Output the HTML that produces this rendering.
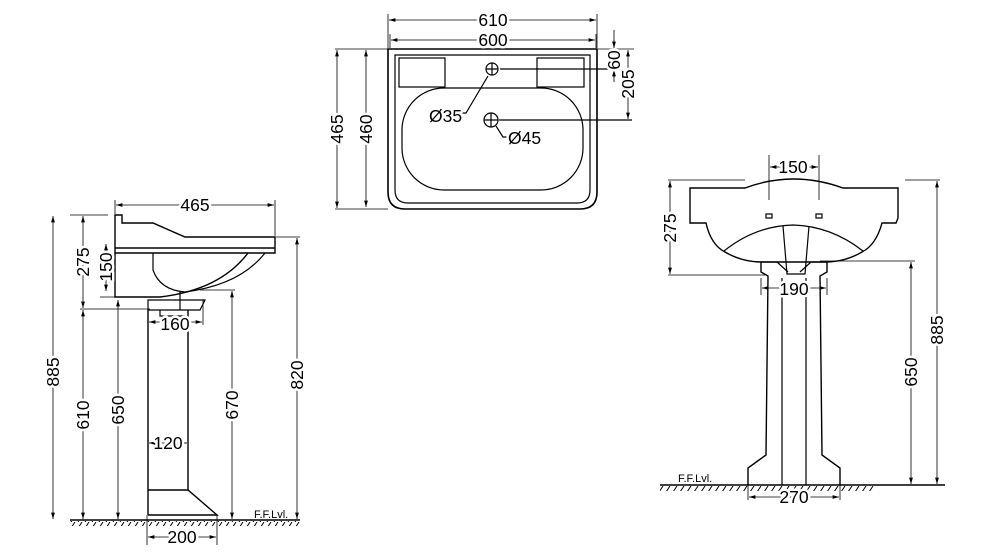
<!DOCTYPE html>
<html><head><meta charset="utf-8"><style>
html,body{margin:0;padding:0;background:#fff}
svg{display:block}
text{font-family:"Liberation Sans",Arial,sans-serif;font-size:17.5px;fill:#000;stroke:#fff;stroke-width:5px;paint-order:stroke;stroke-linejoin:round}
</style></head><body>
<svg width="992" height="557" viewBox="0 0 992 557" xmlns="http://www.w3.org/2000/svg">
<defs>
<marker id="a" viewBox="0 0 10 6" refX="10" refY="3" markerWidth="8" markerHeight="5" orient="auto-start-reverse"><path d="M0,0 L10,3 L0,6 z" fill="#000"/></marker>
<pattern id="h" width="7" height="6" patternUnits="userSpaceOnUse"><path d="M1,6 L5,0" stroke="#000" stroke-width="1"/></pattern>
</defs>
<g fill="none" stroke="#000" stroke-width="1.2">
<!-- TOP VIEW -->
<path d="M388,49 H597 V192 Q597,209 580,209 H405 Q388,209 388,192 Z" stroke-width="1.6"/>
<path d="M395,55 H590 V190 Q590,203 577,203 H408 Q395,203 395,190 Z"/>
<rect x="399" y="58" width="46" height="29"/>
<rect x="537" y="58" width="47" height="29"/>
<rect x="402" y="88" width="181" height="102" rx="42"/>
<circle cx="492" cy="69" r="6"/><path d="M486,69h12M492,63v12"/>
<circle cx="491" cy="120" r="7"/><path d="M484,120h14M491,113v14"/>
<path d="M500,69H620M499,120H632"/>
<path d="M488,76 L466,113 H458"/>
<path d="M496,126 L503,137 H508"/>
<path d="M388,48V14M597,48V14M390,48V34M596,48V34" stroke-width="0.8"/>
<path d="M389,20H596" marker-start="url(#a)" marker-end="url(#a)" stroke-width="0.8"/>
<path d="M391,40H595" marker-start="url(#a)" marker-end="url(#a)" stroke-width="0.8"/>
<path d="M335,49H388M335,209H388" stroke-width="0.8"/>
<path d="M337,50V208" marker-start="url(#a)" marker-end="url(#a)" stroke-width="0.8"/>
<path d="M366,50V207" marker-start="url(#a)" marker-end="url(#a)" stroke-width="0.8"/>
<path d="M598,49H634" stroke-width="0.8"/>
<path d="M614,30V48M614,70V82" stroke-width="0.8"/>
<path d="M614,40V48" marker-end="url(#a)" stroke-width="0.8"/>
<path d="M614,78V70" marker-end="url(#a)" stroke-width="0.8"/>
<path d="M628,50V119" marker-start="url(#a)" marker-end="url(#a)" stroke-width="0.8"/>

<!-- LEFT SIDE VIEW -->
<path d="M115,215 H122 V223 H153 L185,237 H275 V253 H115 Z" stroke-width="1.4"/>
<path d="M115,248 H275 M115,253 V297 H160 Q220,290 248,253" stroke-width="1.4"/>
<path d="M153,253 V270 Q160,290 185,292 M185,292 Q240,285 265,253" />
<path d="M148,300 H205 L200,310 H148 Z M180,292 V310 M160,310 V316 H185"/>
<path d="M148,310 V515 M188,310 V490 M148,490 H188 L217,515 H148" stroke-width="1.4"/>
<path d="M70,215 H108 M100,297 H115 M80,309 H150 M276,237 H300 M200,290 H235" stroke-width="0.8"/>
<path d="M116,205H274" marker-start="url(#a)" marker-end="url(#a)" stroke-width="0.8"/>
<path d="M115,200V214M275,200V236" stroke-width="0.8"/>
<path d="M53,216V519" marker-start="url(#a)" marker-end="url(#a)" stroke-width="0.8"/>
<path d="M83,216V308" marker-start="url(#a)" marker-end="url(#a)" stroke-width="0.8"/>
<path d="M83,310V519" marker-start="url(#a)" marker-end="url(#a)" stroke-width="0.8"/>
<path d="M106,244V291" marker-start="url(#a)" marker-end="url(#a)" stroke-width="0.8"/>
<path d="M118,300V519" marker-start="url(#a)" marker-end="url(#a)" stroke-width="0.8"/>
<path d="M232,291V519" marker-start="url(#a)" marker-end="url(#a)" stroke-width="0.8"/>
<path d="M297,238V519" marker-start="url(#a)" marker-end="url(#a)" stroke-width="0.8"/>
<path d="M149,322H202" marker-start="url(#a)" marker-end="url(#a)" stroke-width="0.8"/>
<path d="M203,300V325" stroke-width="0.8"/>
<path d="M149,443H187" marker-start="url(#a)" marker-end="url(#a)" stroke-width="0.8"/>
<path d="M148,537H216" marker-start="url(#a)" marker-end="url(#a)" stroke-width="0.8"/>
<path d="M147,515V545M217,515V545" stroke-width="0.8"/>
<path d="M70,520H300" stroke-width="1.4"/>
<rect x="70" y="521" width="230" height="5" fill="url(#h)" stroke="none"/>

<!-- FRONT VIEW -->
<path d="M690,188 H745 Q793,170 843,188 H898 V218 L896,223 H882 Q876,245 862,252 Q845,262 825,262 H762 Q742,262 725,252 Q711,245 706,223 H690 Z" stroke-width="1.4"/>
<path d="M724,251 Q755,226 793,225 Q831,226 863,251"/>
<path d="M783,226 L787,274 H805 L809,226"/>
<rect x="766" y="214" width="6" height="4"/><rect x="816" y="214" width="6" height="4"/>
<path d="M761,262 H777 L788,272 M827,262 H811 L800,272"/>
<path d="M761,262 V272 L768,276 L766,455 L748,468 V485 M827,262 V272 L820,276 L822,455 L840,468 V485" stroke-width="1.4"/>
<path d="M782,278 V485 M806,278 V485"/>
<path d="M769,155V200M819,155V200M761,278V295M827,278V295" stroke-width="0.8"/>
<path d="M770,167H818" marker-start="url(#a)" marker-end="url(#a)" stroke-width="0.8"/>
<path d="M668,180H745M668,275H765M820,261H915M905,180H940" stroke-width="0.8"/>
<path d="M670,181V274" marker-start="url(#a)" marker-end="url(#a)" stroke-width="0.8"/>
<path d="M762,288H826" marker-start="url(#a)" marker-end="url(#a)" stroke-width="0.8"/>
<path d="M911,262V484" marker-start="url(#a)" marker-end="url(#a)" stroke-width="0.8"/>
<path d="M937,181V484" marker-start="url(#a)" marker-end="url(#a)" stroke-width="0.8"/>
<path d="M749,497H839" marker-start="url(#a)" marker-end="url(#a)" stroke-width="0.8"/>
<path d="M748,485V500M840,485V500" stroke-width="0.8"/>
<path d="M660,485H945" stroke-width="1.4"/>
<rect x="660" y="486" width="215" height="5" fill="url(#h)" stroke="none"/>
</g>
<g>
<text x="493" y="26" text-anchor="middle">610</text>
<text x="493" y="46" text-anchor="middle">600</text>
<text transform="translate(343,129) rotate(-90)" text-anchor="middle">465</text>
<text transform="translate(372,129) rotate(-90)" text-anchor="middle">460</text>
<text transform="translate(620,60) rotate(-90)" text-anchor="middle">60</text>
<text transform="translate(634,84) rotate(-90)" text-anchor="middle">205</text>
<text x="429" y="122">Ø35</text>
<text x="508" y="144">Ø45</text>

<text x="195" y="211" text-anchor="middle">465</text>
<text transform="translate(89,262) rotate(-90)" text-anchor="middle">275</text>
<text transform="translate(112,267) rotate(-90)" text-anchor="middle">150</text>
<text transform="translate(59,372) rotate(-90)" text-anchor="middle">885</text>
<text transform="translate(89,415) rotate(-90)" text-anchor="middle">610</text>
<text transform="translate(124,410) rotate(-90)" text-anchor="middle">650</text>
<text transform="translate(238,405) rotate(-90)" text-anchor="middle">670</text>
<text transform="translate(303,375) rotate(-90)" text-anchor="middle">820</text>
<text x="175" y="330" text-anchor="middle">160</text>
<text x="168" y="449" text-anchor="middle">120</text>
<text x="182" y="543" text-anchor="middle">200</text>
<text x="254" y="518" style="font-size:11px;stroke-width:0">F.F.Lvl.</text>

<text x="793" y="173" text-anchor="middle">150</text>
<text transform="translate(676,228) rotate(-90)" text-anchor="middle">275</text>
<text x="794" y="295" text-anchor="middle">190</text>
<text transform="translate(917,372) rotate(-90)" text-anchor="middle">650</text>
<text transform="translate(943,330) rotate(-90)" text-anchor="middle">885</text>
<text x="794" y="503" text-anchor="middle">270</text>
<text x="678" y="482" style="font-size:11px;stroke-width:0">F.F.Lvl.</text>
</g>
</svg>
</body></html>
